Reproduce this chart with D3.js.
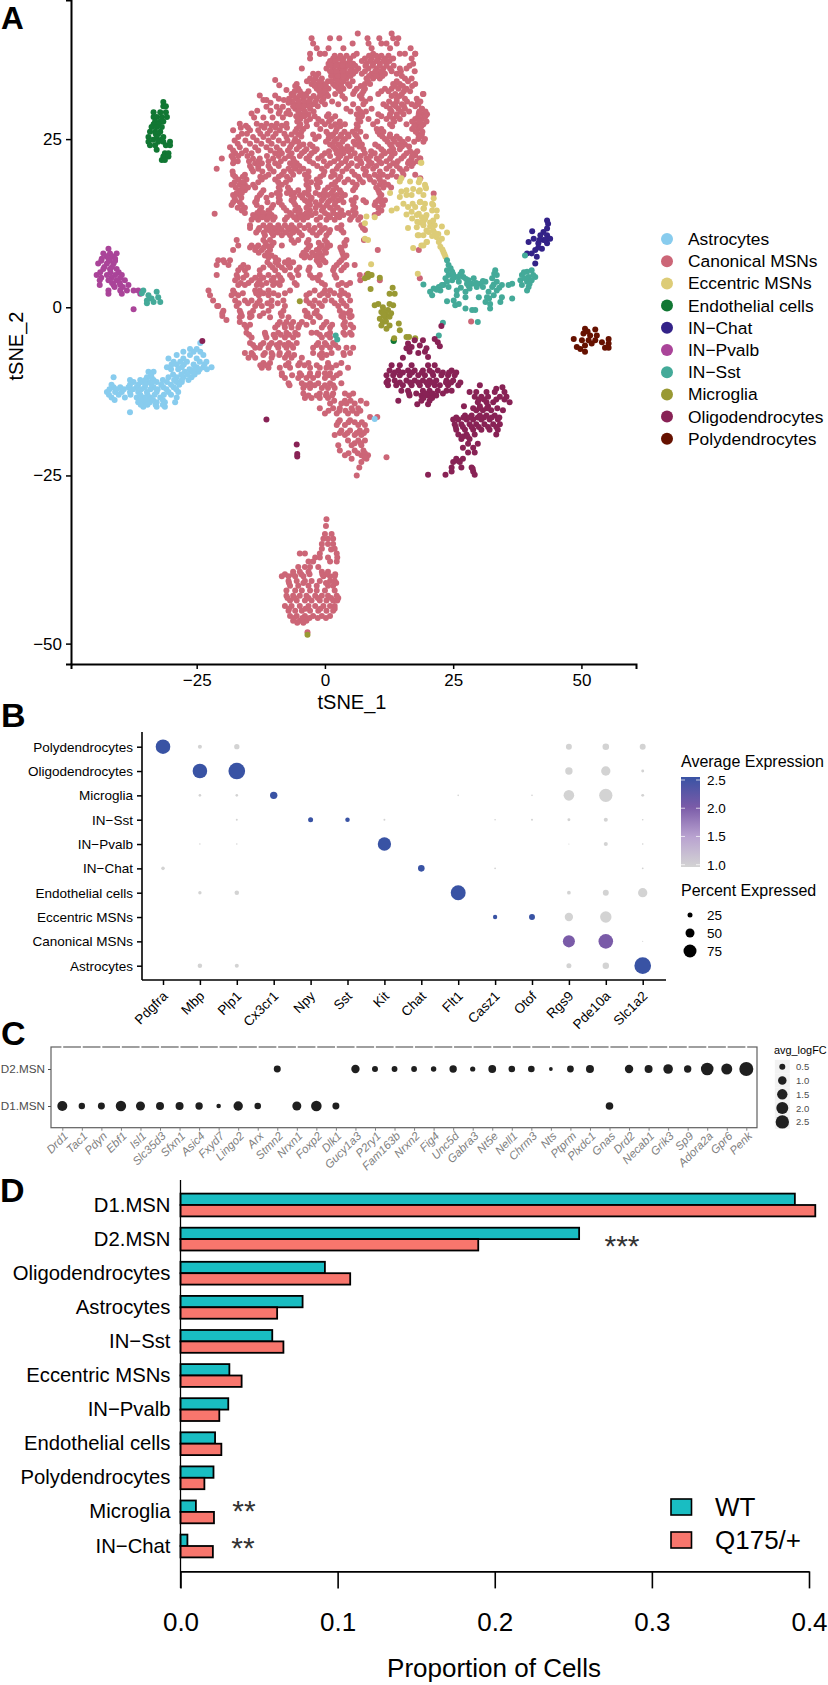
<!DOCTYPE html>
<html><head><meta charset="utf-8">
<style>html,body{margin:0;background:#fff}svg{display:block}text{font-family:"Liberation Sans",Arial,sans-serif}</style>
<script src="https://d3js.org/d3.v7.min.js"></script></head><body>
<script>
// ---------- Panel A: tSNE coordinates, as [tSNE_2,[tSNE_1...]] rows
const cellTypes=["Astrocytes","Canonical MSNs","Eccentric MSNs","Endothelial cells","IN−Chat","IN−Pvalb","IN−Sst","Microglia","Oligodendrocytes","Polydendrocytes"];
const cellColors=["#88CCEE","#CC6677","#DDCC77","#117733","#332288","#AA4499","#44AA99","#999933","#882255","#661100"];
const canonicalRows=[
[40.7,[6.4,13]],[40,[-2.6,1,2.8,8.3,10.6,13.3,14.3]],[39.2,[-2.3,5.4,8.5,11,12,14]],[38.5,[-1.6,.7,3.6,9.1,12.7,16.7]],
[37.7,[-2.9,-.9,-1,0,6.2,9.4,14.6,15.6,17.6,17.6]],[37,[-2.9,1.6,2.6,3.6,4.9,7.8,9.1,10.4,11.7,13.3,16.9]],
[36.2,[.7,1.3,2.3,3.2,4.2,5.5,8.1,9.4,10.7,12,17.2]],[35.5,[-4.5,.3,1.6,2.9,3.9,5.2,6.5,8.5,10.1,11.4,12.7,14.6,15.9]],
[34.7,[-2.3,-1.3,1.6,2.9,4.2,5.5,7.2,9.1,10.4,11.7,14]],[34,[-2.9,-1.9,-.6,2,2.9,4.2,8.1,9.4,10.7,15.6,16.9]],
[33.8,[-9.7]],[33.2,[-5.5,-2.6,-1.3,-.3,1.6,2.9,4.5,7.8,8.8,13.3,14.6,17.6]],[32.5,[-5.2,-1.6,-.3,.7,2.6,3.6,6.2,7.8,11.7,13,14.3,15.9]],
[32.3,[-7.5]],[31.7,[-6.5,-4.5,-3.6,-.6,.3,2,5.5,7.2,10.4,13.7,15,19.2,19.1]],[31.5,[-12.7,-9.7,-6.2]],[31,[-5.5,-4.2,-2.9,-1.6,-.3,3.9,7.2,8.8,14,15.6,17.9]],
[30.8,[-12,-11.4,-8]],[30.3,[18]],[30.2,[-5.8,-4.5,-3.6,-2.3,0,2.6,5.5,7.5,11.4,13.3,15,16.9,18.2]],[29.8,[-11.4,-9.4,-8.2]],
[29.5,[-5.8,-4.5,-2.9,4.2,6.5,9.1,12.7,14.3,15.6,18.9,18.9]],[28.8,[-14.3,-9,-7.5,18.3,19.6]],[28.7,[-6.8,-4.8,-3.2,.7,6.2,7.2,10.4,12.7,14,15.3,19.2,19.9]],
[28,[-4.8,-2.9,-1.3,1.3,6.5,8.5,12,13.3,14.6,17.6,18.9]],[27.3,[-16.6,-13.3,-11.4,-9.4,-7.5,18.6]],[27.2,[-4.8,-1.6,0,2,3.9,6.2,9.4,12.7,15.9,17.9,19.2]],
[26.5,[-5.5,-4.2,-.9,2.3,6.2,10.1,11,17,18.2]],[26.3,[-17.9,-14.6,-13,-10.7,-8.8]],[25.7,[-6.5,-5.2,-2.3,.7,1.6,3.2,4.5,5.9,10.7,12.7,18.2,18.9]],
[25.3,[-16.9,-14,-12,-10.1,-7.5]],[25,[-5.8,-1.9,.7,2.3,3.9,6.5,11.7,13.3,14.6,16.2,18.2,19.5]],[24.6,[19.2]],[24.2,[-6.5,-4.2,-2.9,1,2.6,5.9,7.2,9.8,12.7,14.3,15.6]],
[23.8,[-18.5,-16.6,-13.6,-11.4,-9.4,-6.8]],[23.5,[-5.5,-3.6,-1.6,2,3.6,5.2,7.5,11,13.3,14.6]],
[22.9,[-17.5,-16.2,-14.3,-9.7,-8.4,-6.5,-4.5,-2.6,0,2.3,3.6,5.8,7.8,9.7,11.7,13.6,15.9,17.5]],[22.6,[17.6]],
[22.1,[-20.1,-17.9,-14,-12.7,-10.1,-7.8,-6.2,-3.6,-1.3,2.6,4.2,6.2,8.1,10.1,12.7,14.9,16.9,18.5,18.6]],
[21.4,[-17.9,-13.6,-12.3,-9.7,-6.8,-5.5,-2.3,1,3.2,5.2,7.1,9.1,11,13.3,16.2,17.2]],[20.6,[-21.1,-14.3,-13,-10.7,-7.1,-5.8,-4.2,-.6,2.3,4.2,7.5,9.4,12,14.6,15.9]],
[19.7,[-17.9,-15.6,-11,-8.4,-6.2,-3.9,-.3,1.9,5.8,7.8,9.7,11.3,13,15.3,17.6]],[19.2,[18.6]],[19,[-16.9,-15.3,-12.3,-9.7,-6.8,-3.6,-1.6,2.6,4.5,6.8,8.8,10.7]],
[18.2,[-18.2,-16.6,-15.6,-14,-8.4,-3.6,-1.6,1.3,6.2,10.7,12.3]],[17.4,[-16.6,-15.6,-12,-8.8,-6.8,-5.2,-3.2,0,1.6,2.9,5.5,10.4]],[16.9,[21.2]],
[16.7,[-17.9,-16.6,-12.7,-10.4,-8.8,-6.5,-4.9,-3.2,-1,.6,2.3,3.9,11]],[15.9,[-17.5,-13.3,-8.8,-6.5,-3.9,-2.9,-.6,1,2.6,5.2,7.5,10.4,11.7]],
[15.2,[-18.2,-16.2,-13.3,-10.1,-8.4,-5.8,-2.9,-1,.3,1.9,5.5,9.7,11.3]],[14.4,[-16.2,-12.7,-11,-7.5,-5.8,-4.9,-2.9,-.6,1.6,3.2,5.5,11]],[13.9,[-21.5]],
[13.7,[-14,-12.7,-11.7,-10.4,-6.5,-5.2,-4.2,-2.6,.6,2.3,3.6,5.8,9.7]],[13,[-14.3,-13,-11.3,-10.1,-7.8,-5.5,-4.2,-1.6,.3,1.9,4.9,6.5]],
[12.2,[-14.6,-12,-10.7,-9.1,-7.8,-6.5,-4.9,-3.2,-1,3.2,7.1]],[11.5,[-13,-11,-9.7,-8.4,-6.8,-5.5,-2.9,-.6,1,3.2,7.8]],[10.7,[-11.7,-10.1,-8.4,-6.8,-4.5,-1.6,.3]],
[10,[-17.2,-12,-10.7,-6.5,-5.2,-3.2,0,4.2,7.6]],[9.2,[-16.9,-14.3,-13,-11.4,-10.4,-8.4,-2.9,-.6,1,3.9]],[8.5,[-17.9,-13.6,-12.3,-10.7,-3.6,-1.6,0,3.2,10.3,18.3]],
[7.7,[-11.7,-10.4,-4.5,-3.6,-1.9,-.6,3.6,4.2]],[7,[-19.8,-20.8,-18.5,-9.1,-7.1,-1.6,-.3,3.2]],[6.3,[-21.1,-18.8,-15.9,-10.7,-9.1,-7.1,-1,2.3,4.2,5.8]],
[5.5,[-15.6,-16.9,-12.7,-9.7,-7.8,-5.5,-3.2,1.6,3.2]],[4.8,[-21.1,-17.2,-15.3,-12.7,-11,-9.1,-6.8,-5.2,-2.9,-1,1.9,6.8,8.1,8.8]],[4.3,[18.5]],
[4,[-17.5,-14.3,-12.7,-10.4,-8.4,-1.3,6.9,10.7]],[3.3,[-16.9,-15.6,-13.3,-12.3,-10.1,-8.8,-5.5,0,2.6,4.2]],[2.5,[-22.7,-17.9,-13.6,-12.7,-11,-6.8,-2,0,1,3.2]],
[1.8,[-22.4,-18.2,-16.9,-12.9,-11,-9.1,-3.6,-1,.6,2.9,4.5]],[1,[-21.8,-17.5,-15.6,-14.3,-12.7,-10.4,-8.1,-3.6,-2,0,1.3,3.2,4.9]],
[.2,[-21,-20.8,-17.2,-13.6,-12.3,-10.4,-7.8,-2.3,-.6,2.6,4.2]],[-.5,[-19.8,-16.6,-14,-11,-8.1,-3.9,-1.6,2.9,4.9]],[-1.3,[-20,-16.2,-14.3,-12.7,-8.4,-3.6,-1.3,3.2,5.2]],
[-1.5,[-16.6,-14.6,-10.7,-7.1,-2.9,-1,3.6,4.9]],[-1.9,[-19.2]],[-2.2,[-16.6,-8.8,-7.5,-6.2,-4.5,-2.3,.3,3.9]],[-3,[-15.3,-9.7,-7.8,-6.5,-5.2,-.6,1,3.9,5.5]],
[-3.8,[-15.3,-11.7,-9.1,-7.5,-5.8,-2.6,-1.6,1,3.6,4.9]],[-4.5,[-14.3,-11.4,-9.7,-7.8,-6.2,-.6,1]],[-5.3,[-14.6,-12,-10.4,-8.8,-7.1,-5.5,-1.3,0,1.6]],
[-6,[-13.6,-12.7,-11,-9.1,-7.5,-6.2,-2.3,-.6,1,2.6,4.2,5.5]],[-6.8,[-15.6,-14.3,-11.7,-10.4,-8.8,-7.1,-2.3,-.6,1.3,3.6,4.9]],[-7.5,[-14.9,-13.6,-10.4,-7.8,-6.5,-4.5,-.6]],
[-8.3,[-12,-10.7,-7.1,-4.9,-3.2,.6,3.2]],[-9,[-12.3,-11,-8.8,-6.8,-2.9,-1,.3,1.3,4.5]],[-9.8,[-8.4,-4.9,-2.9,-1.3,0,1,2.9]],[-10.5,[-7.8,-5.2,-3.6,-2.3,0,1.6]],
[-11.3,[-7.1,-4.5,-2.9,-1.3,1,3.2]],[-12,[-4.2,-2.9,-.6,.6,1.9]],[-12.8,[-4.2,-1,.3,1.6,3.9,5.5]],[-13.5,[-3.9,-2.6,-1,.6]],[-14.3,[1,3.2,4.2,5.8,8.1]],[-15,[-1,1.6,2.9,5.2,6.5]],
[-15.8,[0,2.3,4.5,6.2]],[-16.3,[8.8,10.2]],[-16.8,[2.9,4.9]],[-17.5,[2.3,3.9,6.5,7.8]],[-18.3,[3.2,4.9,6.8,8.1]],[-19,[1.9,3.9,5.8,7.1]],[-19.8,[4.5,6.5,7.8]],[-20.5,[2.6,5.2,7.1]],
[-21.3,[2.9,5.8,7.5]],[-22,[3.9,7.1,8.4]],[-22.3,[12]],[-22.5,[5.2,8.1]],[-23,[7.1]],[-23.8,[6.7]],[-25,[6.2]],[-2.1,[28.5]],
[-31.5,[.3]],[-32.5,[.2]],[-33.7,[0,1.3]],[-34.4,[-.3,.6,1.6]],[-35.2,[-.6,.6,1.6]],[-35.9,[-.6,1.9]],[-36.6,[-4.9,-3.9,-1,2.3]],[-37.2,[-1.9,-1,.6,2.4]],[-37.8,[-3.2,-2.3,1,2.3]],
[-38.6,[-5.2,-3.9,-2.9,-1.3]],[-39.3,[-6.2,-4.9,-3.2,-.6,.6]],[-40,[-8.4,-7.1,-5.8,-4.2,-.3,1,1.9]],[-40.7,[-7.1,-5.5,-3.9,-2.6,-1,1,1.9]],[-41.4,[-6.8,-5.2,-3.2,-1.6,.6,1.6]],
[-42.1,[-7.5,-5.8,-4.5,-2.9,-1.6,0,1.9]],[-42.9,[-7.5,-6.2,-4.9,-3.6,-1.9,-.6,.6,2.3]],[-43.6,[-6.8,-5.5,-3.9,-2.6,-1,.3,1.6,2.4]],[-44.4,[-7.8,-6.5,-4.9,-3.2,-1.9,-.3,1,1.9]],
[-45.1,[-7.1,-5.8,-4.5,-2.9,-1.3,.3,1.6]],[-45.9,[-6.8,-5.5,-3.9,-2.3,-.6,1]],[-46.6,[-6.2,-4.9,-3.6]],[-48.3,[-3.4]]];
// second reading of the canonical MSN cloud: the cells between the rows above
const canonicalFillRows=[
[37.4,[1.9,3,4.2,5.6,8.6,10,11,12.4]],[36.6,[1,2,3.5,4.8,7.2,8.8,10.1,11.4,12.6]],[35.9,[1,2.2,3.4,4.6,5.9,7.9,9.3,10.7,12,13.4,16.5]],[35.1,[1,2.2,3.5,4.9,6,7.8,9.8,11,13,14.8,17.5]],
[34.4,[-1.7,1.2,2.5,3.6,5,8.6,10,11.2,15]],[33.6,[-3.5,-2.2,-1,.6,1.2,2.4,3.6,5.4,8.4,14,16.2]],[32.9,[-5.8,-2,-.9,.2,2,3.2,4.8,7,13.6,15.2,17]],[32.1,[-5.9,-4.9,-3.2,-1.1,0,3,5.8,7.5,11,12.4,15.4,16.6]],
[31.4,[-6.1,-5,-3.8,-2.2,-1,.6,3.4,6.8,13,14.6]],[30.6,[-6.4,-5.1,-4,-3,-1.8,-.6,1.4,7.9,12.5,14,16,18.6]],[29.9,[-6.2,-5.2,-4,-3,-1.4,12,13.8,15.4,17.6]],[29.1,[-5.2,-3.9,-2.2,5,6.9,8,13,14.8,16.4,18.4,19.6]],
[28.4,[-5.6,-4,-2,.4,2,7.2,11,12.6,14,18.2,19.6]],[27.6,[-5.4,-3.6,-.6,.8,2.9,6.9,10.2,13.5,17,18.4,19.8]],[26.9,[-5,-3.5,1.2,3,6.4,13.1,17.4,18.8]],[26.1,[-5.8,-4.6,.3,2.1,3.8,5.4,6.9,10.3,11.4,17.7,19]],
[25.4,[-4.6,-1.2,1.3,3,4.6,6.2,8,11.2,12.6,14,18.6]],[24.6,[-6,-5.2,.2,1.8,3.4,5.6,6.7,12.2,13.6,15.2,17.4]],[23.9,[-5,-2.4,1.6,3,4.4,6.7,10.4,13,15,16.4]],[23.2,[-4,-2,.8,2.9,4.6,9,11.4,12.6,16.6,18]],
[33,[-8.9]],[31,[-9,-7]],[30.4,[-10.6,-7.1]],[29.2,[-13.2,-10.6,-8.8,-7.1]],[28.2,[-13.8,-12,-10.2,-8.2]],[27,[-15.4,-12.4,-10.4,-8.4]],[26.7,[-16.4,-15,-11.8,-9.6,-7.4]],[25.8,[-16.2,-15.2,-12.6,-11.2,-9.6,-7.9]],
[24.8,[-17.6,-15.5,-13.3,-11,-9,-7.3]],[24.3,[-17,-14.6,-12.4,-10.4,-8.1]],[23.3,[-17.9,-15.4,-13,-10.6,-8.8,-7.2]],
[22.5,[-18.2,-16.9,-15.1,-11.3,-9,-7,-4.9,-3,-.6,1,3,5,7,8.9,11,13,15.4,17]],[21.7,[-17,-14.8,-13,-11,-8.6,-6,-3,-.2,1.8,4,6.9,8.6,10.6,12,14.2,16.4,18]],[21,[-14.6,-13,-11,-9,-6.2,-5,-1.5,.4,2.6,4.6,6.3,8.4,10,12.6,14,16.9]],
[20.2,[-18,-14,-12.2,-10,-8,-6.6,-5,-3.2,-.1,1.5,3.4,5.3,8,10.7,13.2,15.1]],[19.4,[-17.5,-16,-12.6,-11.6,-9,-7.4,-3.2,-.9,1.2,3,6.5,8.6,10.4,12.2,14]],[18.6,[-17.6,-16,-13,-9.1,-7.6,-2.7,-1,2,3.8,5.4,7.4,9.6,11.5]],
[17.8,[-17.4,-16,-15,-13.6,-9,-7.2,-3.2,-1.4,.6,2.2,5.9,10,11.4,12.9]],[17,[-17.2,-16.2,-12.4,-9.4,-7.4,-6,-4,-1.8,-.2,1.3,3.2,10.6]],[16.3,[-17.6,-16.3,-13.2,-11.4,-9,-6,-4.4,-2.6,-.2,1.6,3.2,6,10.8]],
[15.6,[-17.9,-16.6,-13.6,-11.2,-9,-6.1,-3.4,-1.8,.6,2,3.6,5.6,8,9.9,11]],[14.8,[-17,-15.6,-12.4,-10.4,-8,-5.2,-3.6,-1.8,-.3,1,2.5,5.9,10.4]],[14,[-15.6,-13.2,-12,-10.8,-6.8,-5,-3.6,-1.8,0,1.6,3,4.6,6,10.4]],
[13.4,[-13.6,-12.2,-11,-9.8,-7.4,-6,-4.8,-3.4,-.9,1,2.8,5.2,6.9]],[11.8,[-14.6,-12.8,-11.4,-10,-8.8,-7.2,-6,-4,-2,0,2.4,7.4]],
[11.1,[-13.4,-11.9,-10.4,-9.2,-7.6,-6.2,-5,-2.4,-1,.8,3.6]],[9.6,[-11.6,-10,-6,-3.5,-1.2,.4,3.8]],[8.9,[-14.6,-13.4,-11.9,-10.8,-3.2,-1,.4,3]],
[8.1,[-12.9,-11.2,-4.2,-2.5,-1,.2,3.4]],[7.4,[-11,-9.7,-4,-2.9,-1.2,-.7,3.8]],[6.7,[-19.6,-11.2,-9.6,-7.8,-6.2,-1.3,.1,2.8]],[5.9,[-16.4,-15,-12,-10.2,-8.4,-6.8,-5,-3,1.8,3.7]],
[4.4,[-17,-15.9,-13.6,-12,-10,-8.7,-6.4,-2.4,-1.6,2.2]],[3.6,[-16.4,-14.9,-13,-11.4,-9.7,-9,-5.9,-.6,3.3,4.9]],
[2.1,[-17.6,-16,-13.4,-12,-10,-7.8,-3,-.4,1.8,3.8]],[.6,[-16.8,-15,-13.2,-11.2,-9.2,-3,-1.1,1.9,3.6]],
[-.9,[-20,-16.4,-14.6,-12,-8.6,-3.4,-2,3.6,4.6]],[-2.6,[-15.7,-14.6,-9.2,-7.9,-6.6,-5,-3.6,-.2,1.4,3.6,5]],
[-4.1,[-14.8,-11.6,-10,-8.6,-7,-5.3,-1,.4,3.9,5.2]],[-5.6,[-14,-12.5,-10.8,-9.4,-7.9,-6.6,-1.6,.3,2]],
[-7.1,[-14,-12,-10.2,-8.9,-7.4,-6,-1,.3,3.7]],[-8.6,[-12.6,-11.4,-7.6,-5.2,-4,-1.6,.7,2.2]],[-10.1,[-8.4,-6.4,-4.6,-3,-1.4,.7,2.3]],
[-11.6,[-6.9,-3.8,-2,0,1.6]],[-13.1,[-3.2,-1.6,.2,1.4,4.7]],[-13.9,[1.8,3.9,5,7]],[-15.4,[.7,2.8,4,5.4,6.9]],
[-17.1,[2.6,4.6,5.8,7.2]],[-18.7,[2.9,4.4,6.2,7.6]],[-20.2,[5.8,7]],[-21.7,[4.6,6.4,7.8]],[-22.3,[7.7]],
[-36,[1.2]],[-39.7,[-7.8,-6.2,-4.6,-3,-.5,.4,2]],[-41,[-7,-4.2,.2,2.2]],[-43.2,[-7.3,-5.9,-3.2,-1.4,1.2,2.6]],[-44.8,[-7,-3.8,-.9,1.9]],[-46.2,[-6,-4.4,-3,-1.4,.2]],[-46.9,[-5.4,-4.2]]];
const astrocyteRows=[[-5.3,[-24.3]],[-6.2,[-26.3,-25]],[-6.6,[-27.6,-25.6,-24.3]],[-7.1,[-28.9,-23.7,-26.3]],[-7.6,[-30.5,-27.6,-25]],
[-8.1,[-29.5,-28.2,-26.9,-24.4,-23.1]],[-8.9,[-30.8,-27.9,-25,-23.7,-22.1]],[-9.6,[-34.4,-33.4,-27.3,-26,-24.7]],[-10.4,[-41.2,-34.7,-33.8,-30.5,-28.9,-27.6,-26]],
[-11.1,[-37.3,-35.7,-34.4,-32.8,-30.8,-28.9,-27.9]],[-11.9,[-41.2,-39.9,-38.3,-36.7,-35.1,-33.4,-31.5,-29.5]],[-12.6,[-42.5,-40.9,-39.6,-38,-36.4,-34.7,-32.8,-30.5,-28.6]],
[-13.4,[-41.6,-39,-36.7,-35.4,-34.1,-32.1,-28.9]],[-14.1,[-36.4,-35.4,-34.1,-32.8,-31.2,-29.2]],[-14.8,[-35.4,-32.8,-31.2]],[-15.6,[-38]],[-16.6,[9.7]],
[-8.5,[-29.9,-28.9,-27.5,-25.6,-23.5]],[-9.2,[-30,-28.6,-26.4,-25.4,-24.4,-23]],[-10,[-33.9,-29.6,-28,-26.8,-25.4]],[-10.8,[-38,-36,-35,-33.4,-31.6,-29.4,-27.9,-26.6]],[-11.5,[-41.6,-38,-36.4,-35,-33.8,-31.9,-30,-28.4]],
[-12.2,[-42,-40.6,-39.2,-37.4,-35.8,-34,-32.6,-30.9,-29]],[-13,[-42.1,-40.2,-37.9,-36,-34.6,-33.2,-31.4,-30]],[-13.8,[-41,-36,-34.8,-33.5,-31.6]],[-14.5,[-35.9,-34.6,-33,-31.6]]];
const eccentricPairs=[[18.8,21.5],[14.9,19.2],[14.6,18.7],[16.6,18.7],[18.5,19],[19.5,18.2],[12.7,17],[14.9,17.2],[15.9,17.4],[17.2,17.6],[18.5,17.4],[19.7,17.7],[14.6,16.4],[15.9,16.7],[16.9,16.7],[19.2,16.7],[15.3,15.4],[16.2,14.9],[18.5,15.6],[19.5,15.4],[21.1,15.2],[21.8,14.4],[13,14.4],[14,14.7],[16.9,14.2],[17.9,13.7],[19.2,14.7],[19.8,13.7],[8.1,13.5],[9.7,13.4],[7.8,12.5],[18.5,12.6],[19.5,13.1],[20.5,12.6],[21.4,12.2],[17.9,11.9],[19.2,12.2],[16.2,11.8],[19.8,11.4],[21.1,11.4],[22.1,10.9],[18.1,10.7],[19.2,10.7],[7.8,10.2],[8.4,10],[19.8,9.7],[18.8,9.2],[17.2,8.8],[9,6.4],[18.3,18.6],[19.6,17.9],[18.3,17.2],[21.2,16.2],[18.6,15.7],[20.9,15.4],[17.6,14.9],[19.3,14.7],[20.9,14.4],[21.8,13.5],[18.3,13.9],[19.6,13.4],[18,12.7],[19.2,12.7],[20.5,12],[22.8,12],[23.8,11.1],[21.5,11],[22.8,10.2],[22.2,9.7],[22.5,9],[23.1,8.2],[23.5,7.5],[18.3,10.7],[19.9,9.7],[19.2,9.2],[18.7,21.5],[18.1,5],[21.1,12.9],[20.2,11.2],[20.9,10.6],[21.8,10.4],[22.9,8.6],[23.3,7.9],[18.9,13.4],[17.1,15.4],[17,13.2],[15.9,13.8]];
const endothelialRows=[[30.5,[-31.5]],[29.9,[-31.5,-31]],[29,[-33.4,-32.1,-31]],[28.3,[-33.4,-32.8,-31.8,-30.8]],[27.6,[-33.1,-32.1,-31.5]],[27.2,[-32.5,-33.4]],[26.8,[-33.8,-32.8,-31.8]],[26.1,[-34.1,-33.1,-32.1]],[25.8,[-33,-32.5]],[25.3,[-34.4,-32.8,-31.5]],[24.9,[-33.5,-31.9]],[24.6,[-34.4,-32.5,-31.5,-30.2]],[24.1,[-34.1,-33.1,-31,-30.2]],[23.4,[-32.8]],[22.9,[-31.2,-30.5]],[22.4,[-31.5,-30.5]],[21.9,[-31.8,-31.2]],[-4.9,[13.4]],[-5,[13.4]]];
const chatPairs=[[43.3,12.9],[43.5,12.4],[43.3,11.7],[40.4,11.3],[42.6,11.2],[42,10.7],[43.3,10.7],[43.9,10.2],[40.7,10.2],[42.6,10],[39.7,9.7],[41.6,9.5],[43.3,9.5],[42.3,8.7],[41,8.5],[39.4,8],[40.3,8],[41.3,7.5],[41,6.5],[41.6,8.9],[43,10],[41.8,10]];
const pvalbRows=[[8.7,[-42.2]],[8,[-43.2,-41.9,-40.6]],[7.6,[-42.6,-41.4]],[7.2,[-43.5,-42.2,-40.9]],[6.9,[-43.6,-42,-40.9]],[6.5,[-44.2,-42.5,-41.2]],[6,[-43,-41.5]],[5.7,[-43.2,-41.9,-40.6]],[5.2,[-43.8,-41.8,-40.2]],[4.8,[-44.5,-42.5,-40.9,-39.6]],[4.4,[-43.6,-41.6,-39.9]],[4,[-43.9,-42.2,-40.6,-39]],[3.6,[-41.5,-40]],[3.3,[-43.9,-41.2,-39.9,-38.3]],[3,[-41,-39.4]],[2.5,[-42.2,-39.9,-38.6,-37.3,-36.4]],[2,[-42.2,-39.6,-36]],[-.3,[-37.3]]];
const sstPairs=[[-35.4,2.5],[-34.4,1.8],[-34.7,1],[-33.8,1.3],[-32.8,2.3],[-32.5,1.5],[-34.7,.6],[-33.4,.8],[-32.1,.8],[-35.7,2.1],[2.1,-4.2],[2.4,-4.8],[23.8,7],[24.1,6.3],[23.8,5.5],[24.8,5.3],[24.1,4.8],[25.4,4.5],[26.7,5.3],[27,4.5],[23.5,4.3],[24.8,4],[26.1,3.8],[27.7,3.5],[29,4.3],[28.7,3.5],[30.3,3.5],[31.3,3.8],[33.2,5.5],[33.5,4.8],[32.6,4.3],[33.5,3.8],[32.6,3],[34.5,3.3],[35.8,3.3],[36.5,3.5],[23.1,3.3],[22.2,3],[21.2,2.8],[20.5,2.3],[20.9,1.8],[22.5,2.5],[24.1,3],[25.7,2.5],[27.4,2.3],[29.6,3],[31.9,2.3],[33.5,2.5],[31.6,1.5],[32.9,1.8],[30,1.5],[25.7,1.8],[27.4,1.5],[23.8,.9],[25.1,1],[34.5,1.5],[36.5,1.3],[34.2,.8],[25.4,.3],[26.1,.5],[31.3,.8],[32.2,.5],[27.4,-.2],[28.7,-.4],[29.3,-.4],[32.2,-.2],[29.8,-2.2],[19.2,3.4],[39.4,5.3],[40.3,5.5],[38.4,4.8],[39.7,4.5],[41,4.5],[38.1,4],[39.4,3.8],[40.3,4],[38.4,3.3],[39.7,3],[39.4,2.5],[39,7.7],[23,-2.3],[22.2,-4.2],[26.4,4.9],[25,4.9],[28,4],[30.8,3],[24.5,5.8],[25,4.4],[26,4.5],[27.5,4.2],[28,3.2],[29.5,3.6],[30.8,3.9],[23.8,3.8],[22.8,3.3],[21.8,2.6],[26.5,2.9],[28.2,2.8],[32.9,3.4],[34,2.9],[33,5],[32,1.3],[39,4.3],[39.9,3.5],[40.6,4.8],[38.8,5.2]];
const microgliaPairs=[[8.4,4.5],[7.8,4.3],[9.1,4.8],[8.4,5],[10.7,4.4],[8.9,2.7],[13.2,2.9],[12.6,2],[13.6,2],[10.4,.5],[9.7,.3],[11.3,0],[12.6,.5],[13.3,.3],[11,-.7],[12.3,-.4],[11.8,-.9],[10.7,-1.7],[11.7,-1.4],[12.6,-1.4],[11.3,-2.2],[11,-2.7],[12.6,-2.7],[12,-3.2],[14.4,-2.4],[14.6,-3.4],[13.5,-4.6],[15.9,-4.4],[16.4,-4.4],[17.6,-4.6],[-4.9,.9],[-3.4,-48.7],[11.5,-.6],[12.9,-.9],[11.4,-1.1],[11.9,-2.1]];
const oligoRows=[[-5,[-23.9]],[-4.9,[17.5,19.1]],[-4.7,[21.4]],[-5.2,[22]],[-5.4,[16.2]],[-5.7,[18.5]],[-5.8,[22.4]],[-5.9,[16.9]],[-6.1,[15.9,19.8]],[-6.6,[16.5,19.5]],[-6.8,[18.2]],[-7.4,[20.1]],[-7.5,[15.2]],[-2.8,[22.7]],
[-8.6,[13,14.6,16.9,20.1,21.4]],[-9.4,[12.6,14.3,16.2,17.5,19.1,20.4,22,24.7]],[-10.1,[12,13.3,14.6,16.5,18.2,19.5,21.1,22.7,24,25.3]],[-10.9,[12.3,13.6,15.9,17.5,19.1,20.4,21.7,23.7,25]],[-11.6,[12.3,13.9,15.2,16.9,18.5,20.1,21.4,22.4,24,26,30.2]],[-12.4,[14.9,16.2,19.1,20.4,22,23.7,24.7]],[-13.1,[16.5,18.8,20.1,21.7]],[-13.9,[14.3,18.8,20.4]],[-14.4,[18,20.1]],
[-9.7,[13.6,15.2,17,18.9,20.9,23,24.2,25.6]],[-11.2,[12,14.6,16.6,18.2,19.8,21,23.6,24.6,26.4]],[-12.8,[16.4,17.8,19.6,21,23]],[-13.5,[19.2,20.9]],
[-11.9,[34.6]],[-12.1,[33.4]],[-12.6,[28.2,29.5,31.5,33.1,35]],[-13.3,[29.2,30.5,31.8,34.1,35.4]],[-14.1,[29.8,31.5,32.8,36]],[-14.7,[27.1,30.2,31.8]],[-15.3,[29.5,30.8,32.4,34.7]],[-16.1,[27.3,28.6,30.2,31.5,33.1]],[-16.7,[25,26,27.6,28.9,30.5,32.1,33.7]],[-17.4,[25.3,26.6,28.2,29.5,31.1,32.8,34.1]],[-18.2,[25.6,27.3,28.9,30.5,32.1,33.7]],[-18.9,[26,27.6,29.2,33.4]],[-19.6,[26.6,28.2]],[-20.3,[27.9,29.8]],[-20.9,[26.9,28.9]],[-21.6,[27.9,29.2]],[-22.5,[25.6,26.9]],[-23,[25,26.3]],[-23.8,[24.7,26.6,28.6]],[-24.4,[24.7,28.9]],[-24.9,[20.1,23.5,29.2]],
[-13.7,[30,31,33.4,35]],[-15,[28.9,30.2,31.6,33.6]],[-16.4,[25.6,27,28.2,29.8,31,32.5,34]],[-17.8,[25.5,26.9,28.6,30,31.8,33.4]],[-19.2,[26.9,27.8]],[-22.8,[25.9]],[-24,[28.8]],
[-16.7,[-11.4]],[-20.4,[-5.5]],[-21.8,[-5.4]],[-22.2,[-5.4]]];
const polyPairs=[[50.7,-3.2],[52.7,-3.3],[50.4,-3.9],[51.7,-4.2],[53,-4.2],[48.5,-4.7],[50.1,-4.9],[51.4,-4.9],[52.7,-4.9],[54,-5.2],[55.3,-4.7],[55.3,-5.4],[54.6,-6],[55.3,-6],[50.7,-5.7],[49.8,-6.2],[50.7,-6.6],[49.1,-5.9],[51.2,-3.6],[52,-5.4]];
const xTicksA=[-25,0,25,50], yTicksA=[-50,-25,0,25];

// ---------- Panel B: dot plot values
const genesB=["Pdgfra","Mbp","Plp1","Cx3cr1","Npy","Sst","Kit","Chat","Flt1","Casz1","Otof","Rgs9","Pde10a","Slc1a2"];
const rowsB=["Astrocytes","Canonical MSNs","Eccentric MSNs","Endothelial cells","IN−Chat","IN−Pvalb","IN−Sst","Microglia","Oligodendrocytes","Polydendrocytes"];
const dotGene=["Pdgfra","Mbp","Plp1","Rgs9","Pde10a","Slc1a2","Mbp","Plp1","Rgs9","Pde10a","Slc1a2","Mbp","Plp1","Cx3cr1","Flt1","Otof","Rgs9","Pde10a","Slc1a2","Plp1","Npy","Sst","Kit","Casz1","Otof","Rgs9","Pde10a","Slc1a2","Mbp","Plp1","Kit","Rgs9","Pde10a","Slc1a2","Pdgfra","Chat","Casz1","Slc1a2","Mbp","Plp1","Flt1","Rgs9","Pde10a","Slc1a2","Casz1","Otof","Rgs9","Pde10a","Rgs9","Pde10a","Slc1a2","Mbp","Plp1","Rgs9","Pde10a","Slc1a2"];
const dotRow=["Polydendrocytes","Polydendrocytes","Polydendrocytes","Polydendrocytes","Polydendrocytes","Polydendrocytes","Oligodendrocytes","Oligodendrocytes","Oligodendrocytes","Oligodendrocytes","Oligodendrocytes","Microglia","Microglia","Microglia","Microglia","Microglia","Microglia","Microglia","Microglia","IN−Sst","IN−Sst","IN−Sst","IN−Sst","IN−Sst","IN−Sst","IN−Sst","IN−Sst","IN−Sst","IN−Pvalb","IN−Pvalb","IN−Pvalb","IN−Pvalb","IN−Pvalb","IN−Pvalb","IN−Chat","IN−Chat","IN−Chat","IN−Chat","Endothelial cells","Endothelial cells","Endothelial cells","Endothelial cells","Endothelial cells","Endothelial cells","Eccentric MSNs","Eccentric MSNs","Eccentric MSNs","Eccentric MSNs","Canonical MSNs","Canonical MSNs","Canonical MSNs","Astrocytes","Astrocytes","Astrocytes","Astrocytes","Astrocytes"];
const dotPct=[85,19,27,31,35,31,85,98,40,52,12,10,10,40,4,4,60,77,12,6,25,22,6,4,6,12,19,4,3,3,77,1,19,4,16,35,5,5,15,22,87,17,31,52,21,31,46,65,69,85,1,22,19,25,34,98];
const dotExp=[2.5,1,1,1,1,1,2.5,2.5,1,1,1,1,1,2.5,1,1,1,1,1,1,2.5,2.5,1,1,1,1,1,1,1,1,2.5,1,1,1,1,2.5,1,1,1,1,2.5,1,1,1,2.5,2.5,1,1,2,2,1,1,1,1,1,2.5];
const pctLegend=[25,50,75], expLegend=[2.5,2,1.5,1];

// ---------- Panel C
const genesC=["Drd1","Tac1","Pdyn","Ebf1","Isl1","Slc35d3","Sfxn1","Asic4","Fxyd7","Lingo2","Arx","Stmn2","Nrxn1","Foxp2","Dlk1","Gucy1a3","P2ry1","Fam163b","Nrxn2","Fig4","Unc5d","Gabra3","Nt5e","Nell1","Chrm3","Nts","Ptprm","Plxdc1","Gnas","Drd2","Necab1","Grik3","Sp9","Adora2a","Gpr6","Penk"];
const groupC=["D1.MSN","D1.MSN","D1.MSN","D1.MSN","D1.MSN","D1.MSN","D1.MSN","D1.MSN","D1.MSN","D1.MSN","D1.MSN","D2.MSN","D1.MSN","D1.MSN","D1.MSN","D2.MSN","D2.MSN","D2.MSN","D2.MSN","D2.MSN","D2.MSN","D2.MSN","D2.MSN","D2.MSN","D2.MSN","D2.MSN","D2.MSN","D2.MSN","D1.MSN","D2.MSN","D2.MSN","D2.MSN","D2.MSN","D2.MSN","D2.MSN","D2.MSN"];
const logFC=[1.39,.57,.68,1.5,1.13,.89,.89,.76,.29,1.23,.61,.68,1.13,1.56,.68,.98,.5,.47,.47,.41,.76,.38,.85,.61,.61,.2,.64,.89,.8,.98,.89,1.28,.76,2.2,1.68,2.73];
const logFCLegend=[.5,1,1.5,2,2.5];
const groupsC=["D2.MSN","D1.MSN"];

// ---------- Panel D
const barCats=["D1.MSN","D2.MSN","Oligodendrocytes","Astrocytes","IN−Sst","Eccentric MSNs","IN−Pvalb","Endothelial cells","Polydendrocytes","Microglia","IN−Chat"];
const wtValues=[.391,.2537,.0919,.0777,.0584,.0311,.0304,.022,.021,.0098,.0044];
const q175Values=[.404,.1895,.108,.0615,.0655,.0389,.0247,.026,.0152,.0213,.0206];
const barStars=["","***","","","","","","","","**","**"];
const barTicks=[0,.1,.2,.3,.4];

const svg=d3.select("body").append("svg").attr("width",828).attr("height",1685);
const expandRows=r=>r.flatMap(([y,xs])=>xs.map(x=>[x,y]));
const panelLabel=(t,x,y,s)=>svg.append("text").attr("x",x).attr("y",y).attr("font-size",s||34).attr("font-weight",700).attr("fill","#000").text(t);
panelLabel("A",1,28.5,31.5);panelLabel("B",1,727);panelLabel("C",1,1045);panelLabel("D",0,1202);

// ===== A =====
const xA=d3.scaleLinear().domain([-49.5,60.64]).range([71,636]);
const yA=d3.scaleLinear().domain([-53.03,45.68]).range([664,0]);
const pointsA=[[canonicalRows.concat(canonicalFillRows),1,true],[astrocyteRows,0,true],[eccentricPairs,2,false],[endothelialRows,3,true],[chatPairs,4,false],[pvalbRows,5,true],[sstPairs,6,false],[microgliaPairs,7,false],[oligoRows,8,true],[polyPairs,9,false]];
pointsA.forEach(([d,i,isRows])=>{
  svg.append("g").selectAll("circle").data(isRows?expandRows(d):d).join("circle")
    .attr("cx",p=>xA(p[0])).attr("cy",p=>yA(p[1])).attr("r",3).attr("fill",cellColors[i]);
});
const styleAxis=(g,w,fs,col)=>{g.selectAll(".domain").attr("stroke","#000").attr("stroke-width",w);g.selectAll(".tick line").attr("stroke",col||"#000").attr("stroke-width",w>1.5?1.5:w);g.selectAll("text").attr("font-family","Liberation Sans").attr("font-size",fs).attr("fill",col||"#000");};
const gxA=svg.append("g").attr("transform","translate(0,664)").call(d3.axisBottom(xA).tickValues(xTicksA).tickSizeOuter(0).tickSize(5).tickPadding(5).tickFormat(d=>d<0?"−"+(-d):d));
styleAxis(gxA,2,17);
const gyA=svg.append("g").attr("transform","translate(71,0)").call(d3.axisLeft(yA).tickValues(yTicksA).tickSizeOuter(0).tickSize(5).tickPadding(4).tickFormat(d=>d<0?"−"+(-d):d));
styleAxis(gyA,2,17);
svg.append("text").attr("x",352).attr("y",709).attr("text-anchor","middle").attr("font-size",20).text("tSNE_1");
svg.append("text").attr("transform","translate(23,346) rotate(-90)").attr("text-anchor","middle").attr("font-size",20).text("tSNE_2");
const legA=svg.append("g").selectAll("g").data(cellTypes).join("g").attr("transform",(d,i)=>`translate(667,${239+i*22.2})`);
legA.append("circle").attr("r",6).attr("fill",(d,i)=>cellColors[i]);
legA.append("text").attr("x",21).attr("y",6).attr("font-size",17.4).text(d=>d);

// ===== B =====
const xB=d3.scalePoint().domain(genesB).range([163,642.7]);
const yB=d3.scalePoint().domain(rowsB).range([965.7,746.7]);
const rB=d3.scaleLinear().domain([0,100]).range([.5,8.5]);
const colB=d3.scaleLinear().domain([1,1.5,2,2.5]).range(["#D3D3D3","#B9A3D0","#7A5BA8","#3953A4"]);
svg.append("g").selectAll("circle").data(dotGene.map((g,i)=>({g,row:dotRow[i],p:dotPct[i],e:dotExp[i]}))).join("circle")
  .attr("cx",d=>xB(d.g)).attr("cy",d=>yB(d.row)).attr("r",d=>rB(d.p)).attr("fill",d=>colB(d.e));
const gxB=svg.append("g").attr("transform","translate(0,980)").call(d3.axisBottom(xB).tickSize(5).tickSizeOuter(0));
gxB.select(".domain").remove();styleAxis(gxB,1.5,13.5);
gxB.selectAll("text").attr("text-anchor","end").attr("dy",0).attr("y",0).attr("transform","translate(5,17) rotate(-45)");
const gyB=svg.append("g").attr("transform","translate(142,0)").call(d3.axisLeft(yB).tickSize(5).tickPadding(4).tickSizeOuter(0));
gyB.select(".domain").remove();styleAxis(gyB,1.5,13.5);
svg.append("line").attr("x1",142).attr("x2",666).attr("y1",980).attr("y2",980).attr("stroke","#000").attr("stroke-width",1.6);
svg.append("line").attr("x1",142).attr("x2",142).attr("y1",732).attr("y2",980).attr("stroke","#000").attr("stroke-width",1.6);
const defs=svg.append("defs");
const grad=defs.append("linearGradient").attr("id","expGrad").attr("x1",0).attr("x2",0).attr("y1",1).attr("y2",0);
d3.range(1,2.51,.25).forEach(v=>grad.append("stop").attr("offset",(v-1)/1.5).attr("stop-color",colB(v)));
const yCol=d3.scaleLinear().domain([1,2.5]).range([864.7,780]);
svg.append("rect").attr("x",681).attr("y",777).attr("width",19).attr("height",90).attr("fill","url(#expGrad)");
const colTicks=svg.append("g").selectAll("g").data(expLegend).join("g").attr("transform",d=>`translate(0,${yCol(d)})`);
colTicks.append("line").attr("x1",681).attr("x2",685).attr("stroke","#fff").attr("stroke-width",.7);
colTicks.append("line").attr("x1",696).attr("x2",700).attr("stroke","#fff").attr("stroke-width",.7);
colTicks.append("text").attr("x",707).attr("y",5).attr("font-size",13.5).text(d=>d3.format(".1f")(d));
svg.append("text").attr("x",681).attr("y",767).attr("font-size",16).text("Average Expression");
svg.append("text").attr("x",681).attr("y",896).attr("font-size",16).text("Percent Expressed");
const sizeLeg=svg.append("g").selectAll("g").data(pctLegend).join("g").attr("transform",(d,i)=>`translate(0,${915+i*18})`);
sizeLeg.append("circle").attr("cx",690).attr("r",d=>rB(d)).attr("fill","#000");
sizeLeg.append("text").attr("x",707).attr("y",5).attr("font-size",13.5).text(d=>d);

// ===== C =====
const xC=d3.scalePoint().domain(genesC).range([62.3,746.3]);
const yC=d3.scalePoint().domain(groupsC).range([1069,1106]);
const rC=d3.scaleSqrt().domain([0,2.5]).range([0,6.7]);
svg.append("rect").attr("x",51).attr("y",1047).attr("width",706).attr("height",80.7).attr("fill","none").attr("stroke","#5f5f5f").attr("stroke-width",1.2);
svg.append("g").selectAll("line").data(genesC).join("line").attr("x1",d=>xC(d)).attr("x2",d=>xC(d)).attr("y1",1045).attr("y2",1049).attr("stroke","#fff").attr("stroke-width",1.8);
svg.append("g").selectAll("circle").data(genesC).join("circle").attr("cx",d=>xC(d)).attr("cy",(d,i)=>yC(groupC[i])).attr("r",(d,i)=>rC(logFC[i])).attr("fill","#1f1f1f");
const gxC=svg.append("g").attr("transform","translate(0,1127.7)").call(d3.axisBottom(xC).tickSize(3).tickSizeOuter(0));
gxC.select(".domain").remove();styleAxis(gxC,1,11.5,"#808080");
gxC.selectAll("text").attr("text-anchor","end").attr("font-style","italic").attr("dy",0).attr("y",0).attr("transform","translate(6,9) rotate(-45)");
const gyC=svg.append("g").attr("transform","translate(51,0)").call(d3.axisLeft(yC).tickSize(3).tickPadding(3).tickSizeOuter(0));
gyC.select(".domain").remove();styleAxis(gyC,1,11.7,"#4d4d4d");
svg.append("text").attr("x",774).attr("y",1054).attr("font-size",10.9).text("avg_logFC");
const legC=svg.append("g").selectAll("g").data(logFCLegend).join("g").attr("transform",(d,i)=>`translate(782.3,${1066.7+i*13.8})`);
legC.append("rect").attr("x",-7.5).attr("y",-6.9).attr("width",15).attr("height",13.8).attr("fill","#f2f2f2");
legC.append("circle").attr("r",d=>rC(d)).attr("fill","#1f1f1f");
legC.append("text").attr("x",13.7).attr("y",3.4).attr("font-size",9.5).attr("fill","#4d4d4d").text(d=>d3.format(".1f")(d));

// ===== D =====
const xD=d3.scaleLinear().domain([0,.4]).range([180.5,809]);
const yD=d3.scaleBand().domain(barCats).range([1187.95,1563.05]);
const subD=d3.scaleBand().domain(["WT","Q175/+"]).range([-11.4,11.4]);
const colD={"WT":"#19BDC2","Q175/+":"#F8766D"};
const barData=barCats.flatMap((c,i)=>[{c,s:"WT",v:wtValues[i]},{c,s:"Q175/+",v:q175Values[i]}]);
svg.append("g").selectAll("rect").data(barData).join("rect")
 .attr("x",xD(0)).attr("width",d=>xD(d.v)-xD(0)).attr("y",d=>yD(d.c)+yD.bandwidth()/2+subD(d.s)).attr("height",subD.bandwidth())
 .attr("fill",d=>colD[d.s]).attr("stroke","#000").attr("stroke-width",1.8);
svg.append("line").attr("x1",180.5).attr("x2",180.5).attr("y1",1180).attr("y2",1588).attr("stroke","#000").attr("stroke-width",1.3);
const gxD=svg.append("g").attr("transform","translate(0,1571.4)").call(d3.axisBottom(xD).tickValues(barTicks).tickSize(17).tickSizeOuter(0).tickFormat(d3.format(".1f")).tickPadding(24));
styleAxis(gxD,1.6,26);gxD.selectAll(".tick line").attr("stroke-width",1.6);
const gyD=svg.append("g").attr("transform","translate(180.5,0)").call(d3.axisLeft(yD).tickSize(0).tickPadding(10));
gyD.select(".domain").remove();styleAxis(gyD,1,20.3);
svg.append("text").attr("x",494).attr("y",1677).attr("text-anchor","middle").attr("font-size",26).text("Proportion of Cells");
const starX=[0,622,0,0,0,0,0,0,0,244,243];
svg.append("g").selectAll("text").data(barCats.filter((c,i)=>barStars[i])).join("text")
 .attr("x",c=>starX[barCats.indexOf(c)]).attr("y",c=>yD(c)+yD.bandwidth()/2+(c==="D2.MSN"?17:c==="IN−Chat"?12:9)).attr("text-anchor","middle").attr("font-size",30).attr("fill","#333").text(c=>barStars[barCats.indexOf(c)]);
const legD=svg.append("g").selectAll("g").data(["WT","Q175/+"]).join("g").attr("transform",(d,i)=>`translate(671,${1499+i*33})`);
legD.append("rect").attr("width",20.5).attr("height",16).attr("fill",d=>colD[d]).attr("stroke","#000").attr("stroke-width",1.6);
legD.append("text").attr("x",44).attr("y",17).attr("font-size",26).text(d=>d);
</script></body></html>
